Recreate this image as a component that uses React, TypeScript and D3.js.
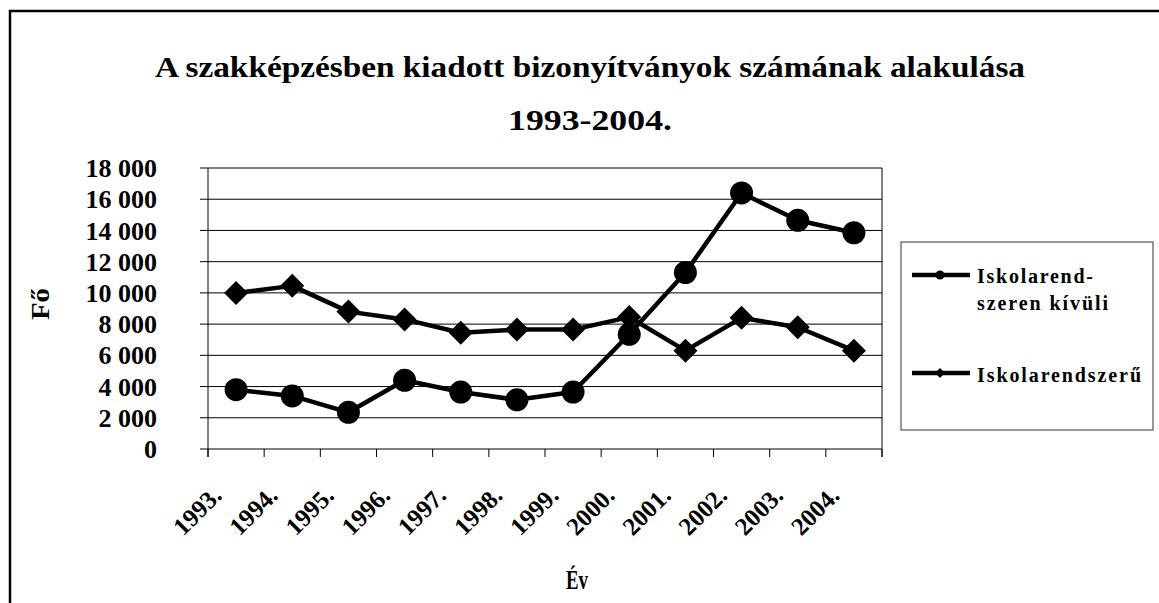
import React from "react";
import * as d3 from "d3";

const years = ["1993.", "1994.", "1995.", "1996.", "1997.", "1998.", "1999.", "2000.", "2001.", "2002.", "2003.", "2004."];
const kivuli = [3800, 3400, 2350, 4400, 3650, 3150, 3650, 7350, 11300, 16400, 14650, 13850];
const rendszeru = [10000, 10450, 8800, 8300, 7450, 7650, 7650, 8450, 6300, 8400, 7800, 6300];
const yTicks = [0, 2000, 4000, 6000, 8000, 10000, 12000, 14000, 16000, 18000];
const titleLines = ["A szakképzésben kiadott bizonyítványok számának alakulása", "1993-2004."];
const FONT = "'Liberation Serif', 'Times New Roman', serif";

export default function App() {
  const W = 1159, H = 603;
  const left = 208, right = 882, top = 168, bottom = 449;
  const x = d3.scaleBand<string>().domain(years).range([left, right]);
  const y = d3.scaleLinear().domain([0, 18000]).range([bottom, top]);
  const cx = (d: string) => (x(d) as number) + x.bandwidth() / 2;
  const line = d3.line<number>().x((_, i) => cx(years[i])).y((v) => y(v));
  const fmt = (v: number) => (v >= 1000 ? d3.format(",")(v).replace(",", " ") : String(v));
  const diamond = (px: number, py: number, r: number) =>
    `M${px},${py - r}L${px + r},${py}L${px},${py + r}L${px - r},${py}Z`;
  const boundaries = d3.range(years.length + 1).map((i) => left + i * x.bandwidth());

  return (
    <svg width={W} height={H} style={{ position: "absolute", left: 0, top: 0, background: "#fff" }} fontFamily={FONT}>
      <rect x={0} y={0} width={W} height={H} fill="#fff" />
      <rect x={10} y={11} width={W + 20} height={H + 20} fill="none" stroke="#000" strokeWidth={2.5} />
      <text x={590} y={77} textAnchor="middle" fontSize={29} fontWeight="bold" textLength={870} lengthAdjust="spacingAndGlyphs">{titleLines[0]}</text>
      <text x={590} y={130} textAnchor="middle" fontSize={29} fontWeight="bold" textLength={164} lengthAdjust="spacingAndGlyphs">{titleLines[1]}</text>

      {yTicks.map((t) => (
        <g key={t}>
          <line x1={left - 8} x2={right} y1={y(t)} y2={y(t)} stroke="#000" strokeWidth={1} />
          <text x={157} y={y(t)} dy="0.35em" textAnchor="end" fontSize={26} fontWeight="bold">{fmt(t)}</text>
        </g>
      ))}
      <line x1={left} x2={left} y1={top} y2={bottom + 8} stroke="#000" strokeWidth={1} />
      <line x1={right} x2={right} y1={top} y2={bottom + 8} stroke="#000" strokeWidth={1} />
      {boundaries.map((b, i) => (
        <line key={i} x1={b} x2={b} y1={bottom} y2={bottom + 8} stroke="#000" strokeWidth={1} />
      ))}
      {years.map((yr) => (
        <text key={yr} transform={`translate(${cx(yr) - 13},497) rotate(-45)`} textAnchor="end" fontSize={25} fontWeight="bold">{yr}</text>
      ))}
      <text transform="translate(49,304) rotate(-90)" textAnchor="middle" fontSize={25} fontWeight="bold" textLength={32} lengthAdjust="spacingAndGlyphs">Fő</text>
      <text x={577} y={589} textAnchor="middle" fontSize={27} fontWeight="bold" textLength={22} lengthAdjust="spacingAndGlyphs">Év</text>

      <path d={line(kivuli) as string} fill="none" stroke="#000" strokeWidth={4.5} strokeLinejoin="round" />
      {kivuli.map((v, i) => (
        <circle key={i} cx={cx(years[i])} cy={y(v)} r={11.5} fill="#000" />
      ))}
      <path d={line(rendszeru) as string} fill="none" stroke="#000" strokeWidth={4.5} strokeLinejoin="round" />
      {rendszeru.map((v, i) => (
        <path key={i} d={diamond(cx(years[i]), y(v), 12)} fill="#000" />
      ))}

      <rect x={901} y={242} width={252} height={188} fill="#fff" stroke="#333" strokeWidth={1} />
      <line x1={912} x2={970} y1={275} y2={275} stroke="#000" strokeWidth={4.5} />
      <circle cx={940} cy={275} r={4.5} fill="#000" />
      <text x={977} y={283} fontSize={20} fontWeight="bold" textLength={116} lengthAdjust="spacing">Iskolarend-</text>
      <text x={977} y={310} fontSize={20} fontWeight="bold" textLength={131} lengthAdjust="spacing">szeren kívüli</text>
      <line x1={912} x2={970} y1={373} y2={373} stroke="#000" strokeWidth={4.5} />
      <path d={diamond(940, 373, 5)} fill="#000" />
      <text x={977} y={382} fontSize={20} fontWeight="bold" textLength={164} lengthAdjust="spacing">Iskolarendszerű</text>
    </svg>
  );
}
